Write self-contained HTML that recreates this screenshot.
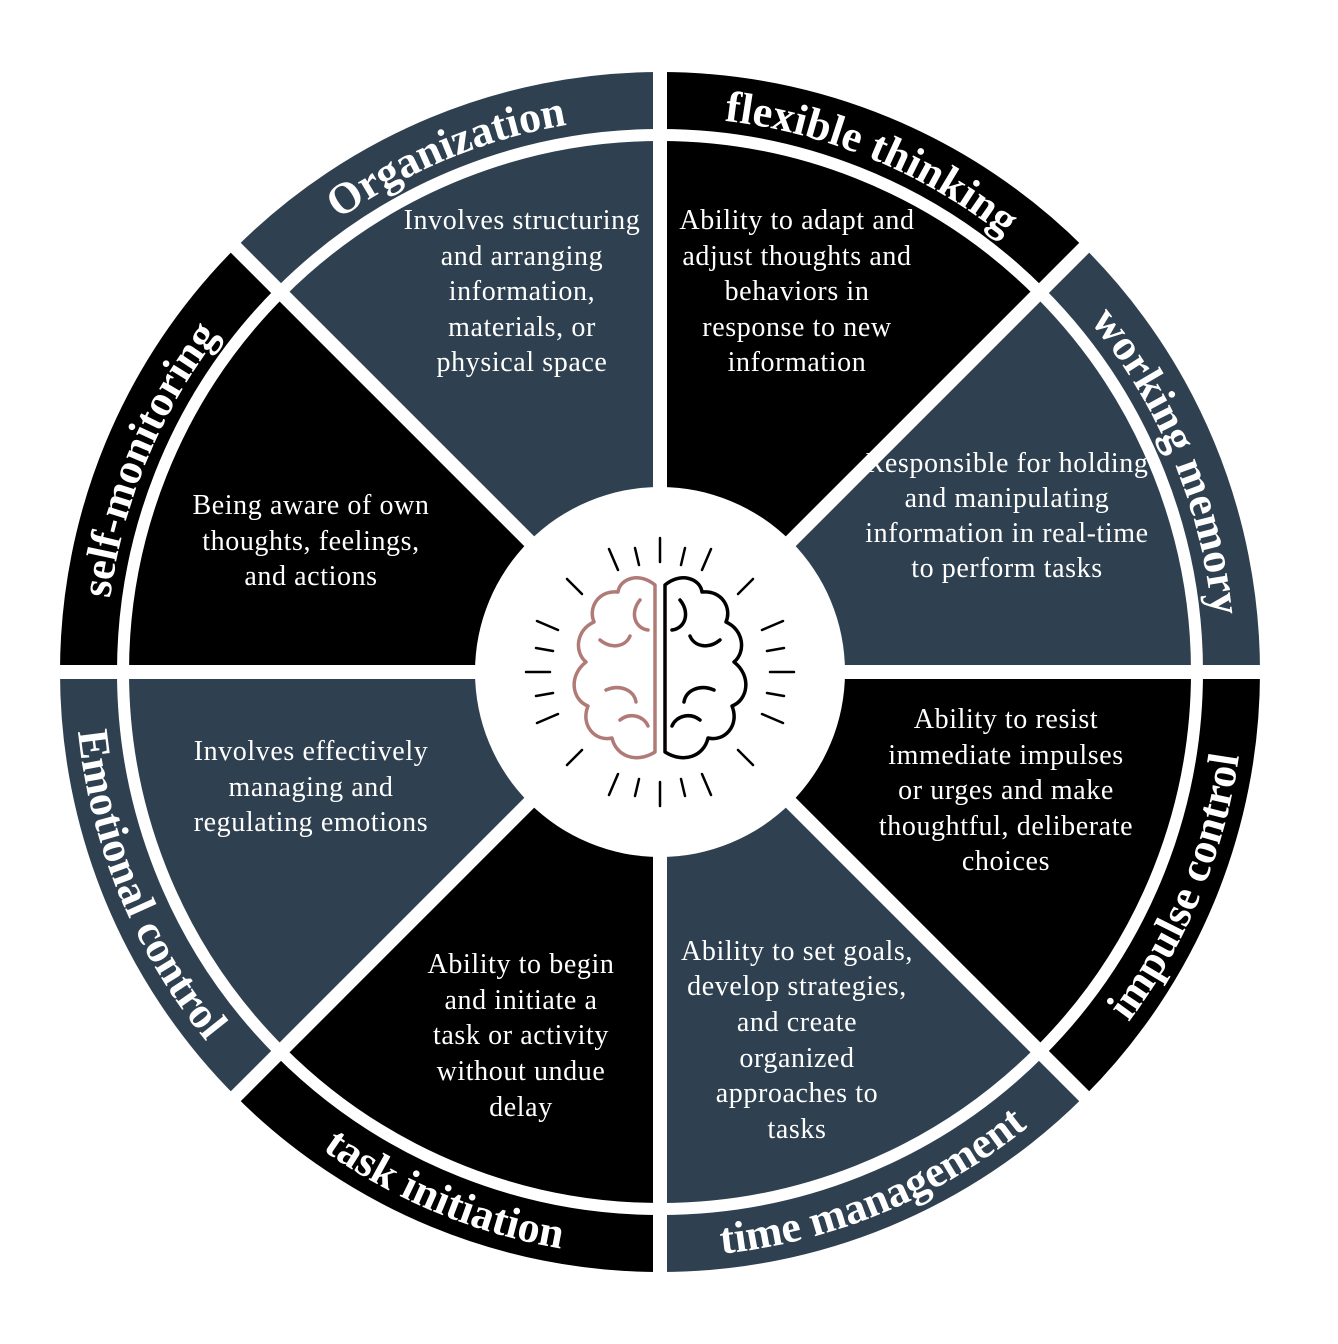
<!DOCTYPE html>
<html><head><meta charset="utf-8"><style>
html,body{margin:0;padding:0;background:#fff}
svg{display:block}
.b{font-family:"Liberation Serif",serif;font-size:28px;letter-spacing:0.6px;fill:#fff;text-anchor:middle}
.h{font-family:"Liberation Serif",serif;font-size:44px;font-weight:bold;fill:#fff;text-anchor:middle}
</style></head><body>
<svg width="1338" height="1344" viewBox="0 0 1338 1344" xmlns="http://www.w3.org/2000/svg">
<defs>
<path id="p1" d="M267.6,279.6 A555,555 0 0 1 660,117"/>
<path id="p2" d="M660,117 A555,555 0 0 1 1052.4,279.6"/>
<path id="p3" d="M1052.4,279.6 A555,555 0 0 1 1215,672"/>
<path id="p8" d="M105,672 A555,555 0 0 1 267.6,279.6"/>
<path id="p4" d="M1073.7,1085.7 A585,585 0 0 0 1245,672"/>
<path id="p5" d="M660,1257 A585,585 0 0 0 1073.7,1085.7"/>
<path id="p6" d="M246.3,1085.7 A585,585 0 0 0 660,1257"/>
<path id="p7" d="M75,672 A585,585 0 0 0 246.3,1085.7"/>
</defs>
<g>
<path d="M660,672 L235.7,247.7 A600,600 0 0 1 660,72 Z" fill="#2f4150"/>
<path d="M660,672 L660,72 A600,600 0 0 1 1084.3,247.7 Z" fill="#000"/>
<path d="M660,672 L1084.3,247.7 A600,600 0 0 1 1260,672 Z" fill="#2f4150"/>
<path d="M660,672 L1260,672 A600,600 0 0 1 1084.3,1096.3 Z" fill="#000"/>
<path d="M660,672 L1084.3,1096.3 A600,600 0 0 1 660,1272 Z" fill="#2f4150"/>
<path d="M660,672 L660,1272 A600,600 0 0 1 235.7,1096.3 Z" fill="#000"/>
<path d="M660,672 L235.7,1096.3 A600,600 0 0 1 60,672 Z" fill="#2f4150"/>
<path d="M660,672 L60,672 A600,600 0 0 1 235.7,247.7 Z" fill="#000"/>
</g>
<circle cx="660" cy="672" r="537" fill="none" stroke="#fff" stroke-width="12"/>
<g stroke="#fff" stroke-width="14">
<line x1="660" y1="60" x2="660" y2="1284"/>
<line x1="48" y1="672" x2="1272" y2="672"/>
<line x1="227" y1="239" x2="1093" y2="1105"/>
<line x1="1093" y1="239" x2="227" y2="1105"/>
</g>
<circle cx="660" cy="672" r="185" fill="#fff"/>

<text class="h"><textPath href="#p1" startOffset="50%">Organization</textPath></text>
<text class="h"><textPath href="#p2" startOffset="50%">flexible thinking</textPath></text>
<text class="h"><textPath href="#p3" startOffset="50%">working memory</textPath></text>
<text class="h"><textPath href="#p8" startOffset="50%">self-monitoring</textPath></text>
<text class="h"><textPath href="#p4" startOffset="50%">impulse control</textPath></text>
<text class="h"><textPath href="#p5" startOffset="50%">time management</textPath></text>
<text class="h"><textPath href="#p6" startOffset="50%">task initiation</textPath></text>
<text class="h"><textPath href="#p7" startOffset="50%">Emotional control</textPath></text>

<text class="b"><tspan x="522" y="229">Involves structuring</tspan><tspan x="522" y="265">and arranging</tspan><tspan x="522" y="300">information,</tspan><tspan x="522" y="336">materials, or</tspan><tspan x="522" y="371">physical space</tspan></text>
<text class="b"><tspan x="797" y="229">Ability to adapt and</tspan><tspan x="797" y="265">adjust thoughts and</tspan><tspan x="797" y="300">behaviors in</tspan><tspan x="797" y="336">response to new</tspan><tspan x="797" y="371">information</tspan></text>
<text class="b"><tspan x="1007" y="472">Responsible for holding</tspan><tspan x="1007" y="507">and manipulating</tspan><tspan x="1007" y="542">information in real-time</tspan><tspan x="1007" y="577">to perform tasks</tspan></text>
<text class="b"><tspan x="311" y="514">Being aware of own</tspan><tspan x="311" y="550">thoughts, feelings,</tspan><tspan x="311" y="585">and actions</tspan></text>
<text class="b"><tspan x="1006" y="728">Ability to resist</tspan><tspan x="1006" y="764">immediate impulses</tspan><tspan x="1006" y="799">or urges and make</tspan><tspan x="1006" y="835">thoughtful, deliberate</tspan><tspan x="1006" y="870">choices</tspan></text>
<text class="b"><tspan x="311" y="760">Involves effectively</tspan><tspan x="311" y="796">managing and</tspan><tspan x="311" y="831">regulating emotions</tspan></text>
<text class="b"><tspan x="521" y="973">Ability to begin</tspan><tspan x="521" y="1009">and initiate a</tspan><tspan x="521" y="1044">task or activity</tspan><tspan x="521" y="1080">without undue</tspan><tspan x="521" y="1116">delay</tspan></text>
<text class="b"><tspan x="797" y="960">Ability to set goals,</tspan><tspan x="797" y="995">develop strategies,</tspan><tspan x="797" y="1031">and create</tspan><tspan x="797" y="1067">organized</tspan><tspan x="797" y="1102">approaches to</tspan><tspan x="797" y="1138">tasks</tspan></text>

<g stroke="#000" stroke-width="2.5" stroke-linecap="round">
<line x1="660" y1="562" x2="660" y2="538"/><line x1="660" y1="782" x2="660" y2="806"/>
<line x1="550" y1="672" x2="526" y2="672"/><line x1="770" y1="672" x2="794" y2="672"/>
<line x1="618" y1="570" x2="609" y2="549"/><line x1="702" y1="570" x2="711" y2="549"/>
<line x1="618" y1="774" x2="609" y2="795"/><line x1="702" y1="774" x2="711" y2="795"/>
<line x1="582" y1="594" x2="567" y2="579"/><line x1="738" y1="594" x2="753" y2="579"/>
<line x1="582" y1="750" x2="567" y2="765"/><line x1="738" y1="750" x2="753" y2="765"/>
<line x1="558" y1="630" x2="537" y2="621"/><line x1="762" y1="630" x2="783" y2="621"/>
<line x1="558" y1="714" x2="537" y2="723"/><line x1="762" y1="714" x2="783" y2="723"/>
<line x1="639" y1="565" x2="635" y2="548"/><line x1="681" y1="565" x2="685" y2="548"/>
<line x1="639" y1="779" x2="635" y2="796"/><line x1="681" y1="779" x2="685" y2="796"/>
<line x1="553" y1="651" x2="536" y2="648"/><line x1="767" y1="651" x2="784" y2="648"/>
<line x1="553" y1="693" x2="536" y2="696"/><line x1="767" y1="693" x2="784" y2="696"/>
</g>
<g fill="none" stroke-width="3.5" stroke-linejoin="round" stroke-linecap="round">
<path stroke="#b07a76" d="M655,585 C640,572 620,578 618,592 C598,590 588,608 594,622 C576,630 574,652 586,662 C568,676 572,700 588,706 C580,726 596,742 612,738 C616,756 636,764 655,752 Z M640,600 C630,612 634,628 648,630 M600,640 C612,650 626,646 630,636 M606,690 C620,684 634,690 636,702 M620,720 C630,712 644,716 648,726"/>
<path stroke="#000" d="M665,585 C680,572 700,578 702,592 C722,590 732,608 726,622 C744,630 746,652 734,662 C752,676 748,700 732,706 C740,726 724,742 708,738 C704,756 684,764 665,752 Z M680,600 C690,612 686,628 672,630 M720,640 C708,650 694,646 690,636 M714,690 C700,684 686,690 684,702 M700,720 C690,712 676,716 672,726"/>
</g>
</svg>
</body></html>
